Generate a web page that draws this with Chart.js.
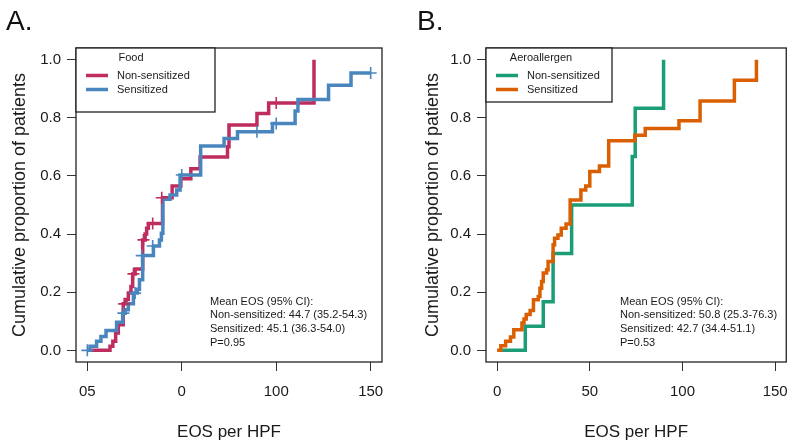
<!DOCTYPE html>
<html>
<head>
<meta charset="utf-8">
<script src="https://cdn.jsdelivr.net/npm/chart.js@4.4.0/dist/chart.umd.min.js"></script>
<style>
    html, body { margin: 0; padding: 0; background: #ffffff; }
    #wrap { position: relative; width: 800px; height: 443px; }
    .panel { position: absolute; top: 0; width: 400px; height: 443px; }
</style>
</head>
<body>
<div id="wrap">
    <div class="panel" style="left:0"><canvas id="chartA" width="400" height="443"></canvas></div>
    <div class="panel" style="left:400px"><canvas id="chartB" width="400" height="443"></canvas></div>
</div>
<script>
// Fonte e cor padrão (Liberation Sans ~ Arial)
const FONT = '"Liberation Sans", Arial, Helvetica, sans-serif';
Chart.defaults.font.family = FONT;
Chart.defaults.color = '#1a1a1a';

// Eixos compartilhados
const xTickValues = [0, 50, 100, 150];
const xTickLabelsA = ['05', '0', '100', '150'];
const xTickLabelsB = ['0', '50', '100', '150'];
const yTickValues = [0, 0.2, 0.4, 0.6, 0.8, 1.0];
const yTickLabels = ['0.0', '0.2', '0.4', '0.6', '0.8', '1.0'];

// Painel A - Food
const foodNonX = [2, 12, 13.5, 15, 16.4, 19, 20.5, 21.7, 23.1, 24, 25.3, 29.3, 30.6, 31.4, 32.3, 39.8, 44.9, 49.5, 54.8, 59.7, 74.2, 75, 89.8, 96, 120];
const foodNonY = [0, 0.014, 0.031, 0.06, 0.088, 0.16, 0.175, 0.197, 0.22, 0.263, 0.28, 0.38, 0.40, 0.42, 0.436, 0.525, 0.565, 0.59, 0.625, 0.665, 0.70, 0.775, 0.815, 0.851, 1.0];
const foodNonCensX = [19.5, 24.4, 29.7, 34.6, 39.4, 100];
const foodNonCensY = [0.16, 0.263, 0.38, 0.436, 0.525, 0.851];

const foodSensX = [0, 1.4, 4.9, 7.2, 9.9, 15.5, 18.7, 20, 21.7, 24.4, 26.5, 27.6, 29.3, 35, 38.2, 39.2, 40, 43.8, 47.3, 49.1, 60, 72.4, 79.5, 98, 110, 111.5, 127.7, 139.6, 150];
const foodSensY = [0, 0.014, 0.031, 0.048, 0.068, 0.097, 0.128, 0.14, 0.16, 0.197, 0.21, 0.243, 0.326, 0.359, 0.38, 0.403, 0.52, 0.534, 0.552, 0.603, 0.703, 0.729, 0.752, 0.78, 0.823, 0.863, 0.912, 0.954, 0.954];
const foodSensCensX = [0, 19.1, 25.3, 28.8, 34.6, 50, 89.8, 100, 150];
const foodSensCensY = [0, 0.128, 0.197, 0.326, 0.359, 0.603, 0.752, 0.78, 0.954];

const foodNotes = ['Mean EOS (95% CI):', 'Non-sensitized: 44.7 (35.2-54.3)', 'Sensitized: 45.1 (36.3-54.0)', 'P=0.95'];

// Painel B - Aeroallergen
const aeroNonX = [2, 15.2, 24.9, 30.2, 40.2, 72.9, 74.5, 89.8];
const aeroNonY = [0, 0.083, 0.167, 0.333, 0.5, 0.667, 0.833, 1.0];

const aeroSensX = [0, 2, 4.6, 7.2, 9, 13.4, 14.5, 15.7, 17.8, 19.6, 22.2, 23.1, 24, 24.9, 26.7, 27.5, 30.2, 31, 32.8, 34.6, 37.2, 39.4, 45.2, 47.8, 50, 55.2, 60.2, 74.3, 79.9, 98.1, 109.5, 128, 139.9];
const aeroSensY = [0, 0.016, 0.031, 0.046, 0.071, 0.094, 0.108, 0.123, 0.137, 0.174, 0.185, 0.214, 0.237, 0.266, 0.277, 0.306, 0.363, 0.386, 0.397, 0.42, 0.435, 0.517, 0.552, 0.565, 0.615, 0.634, 0.721, 0.74, 0.763, 0.79, 0.858, 0.929, 1.0];

const aeroNotes = ['Mean EOS (95% CI):', 'Non-sensitized: 50.8 (25.3-76.3)', 'Sensitized: 42.7 (34.4-51.1)', 'P=0.53'];

// Cores
const RED = '#BF2D5E';
const BLUE = '#4A86BE';
const GREEN = '#1B9E77';
const ORANGE = '#D95F02';

function toPoints(xs, ys) {
    return xs.map((x, i) => ({ x: x, y: ys[i] }));
}

function stepSet(label, xs, ys, color, rank) {
    return {
        label: label,
        rank: rank,
        data: toPoints(xs, ys),
        borderColor: color,
        backgroundColor: color,
        borderWidth: 3.5,
        stepped: true,
        pointRadius: 0,
        fill: false
    };
}

function censorSet(xs, ys, color) {
    return {
        label: 'censor',
        isCensor: true,
        data: toPoints(xs, ys),
        showLine: false,
        borderColor: color,
        backgroundColor: color,
        pointStyle: 'cross',
        pointRadius: 6,
        pointBorderWidth: 1.6
    };
}

// Moldura, letra do painel, legenda e notas
const panelDecor = {
    id: 'panelDecor',
    afterDraw(chart, args, opts) {
        const ctx = chart.ctx;
        const a = chart.chartArea;
        ctx.save();
        ctx.strokeStyle = '#222';
        ctx.lineWidth = 1.3;
        ctx.strokeRect(a.left, a.top, a.right - a.left, a.bottom - a.top);

        ctx.fillStyle = '#111';
        ctx.font = '28px ' + FONT;
        ctx.textAlign = 'left';
        ctx.textBaseline = 'alphabetic';
        ctx.fillText(opts.letter, opts.letterX, 30);

        // legenda
        ctx.fillStyle = '#fff';
        ctx.fillRect(a.left, a.top, opts.legendW, opts.legendH);
        ctx.strokeRect(a.left, a.top, opts.legendW, opts.legendH);
        ctx.fillStyle = '#1a1a1a';
        ctx.font = '11px ' + FONT;
        ctx.textBaseline = 'middle';
        ctx.textAlign = 'center';
        ctx.fillText(opts.legendTitle, a.left + 55, a.top + 10);
        const entries = chart.data.datasets.filter(d => !d.isCensor).sort((p, q) => p.rank - q.rank);
        entries.forEach((d, i) => {
            const y = a.top + 27.5 + i * 14;
            ctx.strokeStyle = d.borderColor;
            ctx.lineWidth = 3.5;
            ctx.beginPath();
            ctx.moveTo(a.left + 10, y);
            ctx.lineTo(a.left + 32, y);
            ctx.stroke();
            ctx.textAlign = 'left';
            ctx.fillText(d.label, a.left + 41, y);
        });

        // notas
        opts.notes.forEach((t, i) => {
            ctx.fillText(t, a.left + 134, 301.7 + i * 13.6);
        });
        ctx.restore();
    }
};

function makePanel(canvasId, cfg) {
    const ctx = document.getElementById(canvasId);
    return new Chart(ctx, {
        type: 'line',
        data: { datasets: cfg.datasets },
        plugins: [panelDecor],
        options: {
            responsive: false,
            animation: false,
            layout: { padding: { left: 0, right: cfg.padRight, top: 48, bottom: 0 } },
            plugins: {
                legend: { display: false },
                tooltip: { enabled: false },
                panelDecor: {
                    letter: cfg.letter,
                    letterX: cfg.letterX,
                    legendTitle: cfg.legendTitle,
                    legendW: cfg.legendW,
                    legendH: cfg.legendH,
                    notes: cfg.notes
                }
            },
            scales: {
                x: {
                    type: 'linear',
                    min: -6,
                    max: 156,
                    afterBuildTicks: s => { s.ticks = xTickValues.map(v => ({ value: v })); },
                    afterFit: s => { s.height = 81; },
                    grid: { drawOnChartArea: false, drawTicks: true, tickLength: 9, color: '#333', lineWidth: 1 },
                    border: { display: false },
                    ticks: {
                        autoSkip: false,
                        maxRotation: 0,
                        padding: 12,
                        font: { size: 15 },
                        callback: (v, i) => cfg.xLabels[i]
                    },
                    title: {
                        display: true,
                        text: 'EOS per HPF',
                        font: { size: 17 },
                        padding: { top: 6, bottom: 0 }
                    }
                },
                y: {
                    min: -0.04,
                    max: 1.04,
                    afterBuildTicks: s => { s.ticks = yTickValues.map(v => ({ value: v })); },
                    afterFit: s => { s.width = cfg.yWidth; },
                    grid: { drawOnChartArea: false, drawTicks: true, tickLength: 9, color: '#333', lineWidth: 1 },
                    border: { display: false },
                    ticks: {
                        padding: 6,
                        font: { size: 15 },
                        callback: (v, i) => yTickLabels[i]
                    },
                    title: {
                        display: true,
                        text: 'Cumulative proportion of patients',
                        font: { size: 18 },
                        padding: { top: cfg.yTitlePad, bottom: 0 }
                    }
                }
            }
        }
    });
}

makePanel('chartA', {
    letter: 'A.',
    letterX: 6,
    legendTitle: 'Food',
    legendW: 139,
    legendH: 64,
    notes: foodNotes,
    xLabels: xTickLabelsA,
    yWidth: 76,
    padRight: 18,
    yTitlePad: 9,
    datasets: [
        censorSet(foodSensCensX, foodSensCensY, BLUE),
        censorSet(foodNonCensX, foodNonCensY, RED),
        stepSet('Sensitized', foodSensX, foodSensY, BLUE, 2),
        stepSet('Non-sensitized', foodNonX, foodNonY, RED, 1)
    ]
});

makePanel('chartB', {
    letter: 'B.',
    letterX: 17,
    legendTitle: 'Aeroallergen',
    legendW: 126,
    legendH: 54,
    notes: aeroNotes,
    xLabels: xTickLabelsB,
    yWidth: 86,
    padRight: 9,
    yTitlePad: 22,
    datasets: [
        stepSet('Sensitized', aeroSensX, aeroSensY, ORANGE, 2),
        stepSet('Non-sensitized', aeroNonX, aeroNonY, GREEN, 1)
    ]
});
</script>
</body>
</html>
